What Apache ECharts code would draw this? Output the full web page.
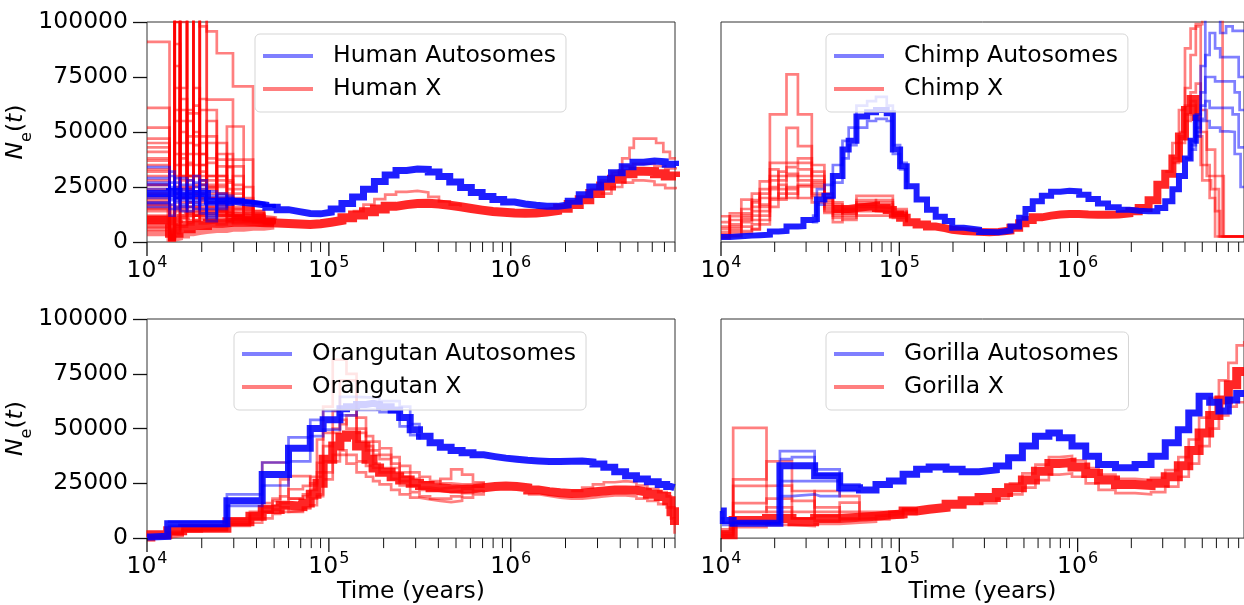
<!DOCTYPE html>
<html><head><meta charset="utf-8">
<script src="https://cdn.jsdelivr.net/npm/echarts@6/dist/echarts.min.js"></script>
<style>html,body{margin:0;padding:0;background:#fff}#c{width:1244px;height:605px}</style>
</head><body><div id="c"></div>
<script>
// ---------------- DATA ----------------
const yTicks = [0, 25000, 50000, 75000, 100000];
const xDecades = [1e4, 1e5, 1e6];

// Human
const humanCoreT = [1e4,1.33e4,1.5e4,1.75e4,2.15e4,2.6e4,3.0e4,3.4e4,3.9e4,4.5e4,5.2e4,6.0e4,6.9e4,7.9e4,9.0e4,1.03e5,1.18e5,1.35e5,1.55e5,1.78e5,2.04e5,2.34e5,2.68e5,3.07e5,3.52e5,4.03e5,4.62e5,5.3e5,6.07e5,6.96e5,7.98e5,9.14e5,1.05e6,1.2e6,1.38e6,1.58e6,1.81e6,2.07e6,2.38e6,2.72e6,3.12e6,3.58e6,4.1e6,4.7e6,5.38e6,6.17e6,7.07e6,8.1e6];
const humanAutoCore = [22000,23000,21000,22000,18500,18500,18000,17500,16800,15800,14700,13800,13000,12800,13500,15000,17500,20500,24000,27500,30500,32500,33200,33000,31800,29800,27300,24800,22500,20700,19300,18200,17300,16700,16300,16200,16800,18500,21500,25000,28500,31500,34200,36300,36800,36500,35300,34500];
const humanXCore = [10000,4000,6000,7500,8500,9000,9000,9000,8800,8600,8400,8200,8000,8300,9000,9800,11000,12300,13700,15000,16200,17000,17500,17600,17300,16700,16000,15200,14500,13900,13500,13200,13100,13200,13600,14300,15300,17000,19200,22000,25500,28500,31000,32200,32000,31000,30000,29500];
const humanEarlyT = [1e4,1.33e4,1.42e4,1.52e4,1.66e4,1.8e4,1.95e4,2.13e4,2.42e4,2.75e4,2.97e4,3.4e4,3.83e4,4.4e4,5.0e4];
const humanXBandHi = [16000,9000,10000,11500,12500,13000,13500,13500,13000,12500,12000,11500,11000,10500,10000];
const humanXBandLo = [4000,1500,2000,3000,4000,4500,5000,5500,5500,6000,6000,6500,6500,7000,7000];
const humanAutoEarly1 = [34000,30000,25000,21000,26000,30000,22000,15000,19000,21000,19500,18500,17500,16500,15500];
const humanAutoEarly2 = [26000,17000,27000,24000,19000,23000,28000,12000,17000,19000,19000,18000,17500,16500,15500];
const humanAutoEarly3 = [18000,24000,20000,29000,22000,17000,19000,21000,20000,18000,18500,18500,17800,16800,15500];
const humanAutoEarly4 = [16000,12000,16000,14000,18000,20000,15000,9500,16000,17000,18000,17500,17000,16500,15500];
const humanAutoEarly5 = [29000,20000,18000,26000,16000,21000,17000,19500,18000,19500,19000,18500,17500,16500,15500];
const humanAutoEarly6 = [20000,27000,22000,17000,24000,15000,26000,17000,21000,19000,18500,18000,17500,16500,15500];
const humanAutoEarly7 = [24000,32000,19000,23000,14000,27000,20000,13000,22000,18000,19000,18000,17500,16500,15500];
const humanAutoEarly8 = [21000,15000,24000,19000,28000,18000,24000,23000,15000,20000,18000,18500,17500,16500,15500];
const humanAutoEarly9 = [27000,25000,15000,22000,20000,25000,13000,18000,19000,17000,19500,18000,17500,16500,15500];
const humanAutoEarly10 = [17500,19000,29000,16000,21000,19000,21000,11000,18000,20000,18500,18000,17500,16500,15500];
const humanXEarly1 = [91000,2000,150000,150000,110000,120000,98000,95700,85800,85800,70700,70700,14000,10000,9000];
const humanXEarly2 = [61000,3000,130000,45000,58500,58500,120000,64700,64700,64700,22000,14000,12000,10000,9000];
const humanXEarly3 = [43000,1500,120000,30000,25000,105000,40000,28000,20000,52500,52500,16000,12500,10000,9000];
const humanXEarly4 = [35000,4000,110000,110000,30000,22000,18000,45000,37400,37400,37400,37400,13000,11000,9500];
const humanXEarly5 = [28000,2500,20000,105000,105000,40000,28000,22000,34400,34400,34400,15000,12000,10000,9000];
const humanXEarly6 = [20000,1000,12000,25000,16000,48000,48000,16000,25000,14000,12000,11000,10000,9000,8500];
const humanXEarly7 = [14000,6000,9000,12000,14000,10000,12000,10000,11000,9000,10000,9500,9000,8500,8000];
const humanXEarly8 = [8000,3500,7000,9000,8000,9500,8500,9000,8000,9500,8500,8000,7500,7500,7500];
const humanXEarly9 = [5500,1200,90000,16000,35000,130000,30000,25000,18000,16000,15000,12000,11000,10000,9000];
const humanXEarly10 = [30000,5000,15000,60000,30000,20000,28000,20000,13000,15000,12000,11000,10000,9000,8500];
const humanXEarly11 = [24000,1500,8000,15000,130000,50000,20000,15000,14000,12000,11000,10000,9500,9000,8500];
const humanXEarly12 = [10000,2000,5000,40000,12000,30000,15000,12000,30000,20000,12000,10000,9000,8000,8000];
const humanXEarly13 = [38000,3000,25000,70000,140000,140000,26000,18000,15000,13000,12000,11000,10000,9000,8500];
const humanXEarly14 = [17000,2500,100000,20000,10000,14000,60000,60000,20000,15000,13000,11000,10000,9000,8500];
const humanXEarly15 = [32000,2000,40000,18000,22000,15000,35000,14000,12000,11000,10500,10000,9500,9000,8500];
const humanXEarly16 = [26000,800,6000,9000,30000,12000,11000,20000,15000,13000,12000,11000,10000,9000,8500];
const humanXEarly17 = [22000,3000,60000,100000,20000,12000,16000,13000,18000,14000,11000,10000,9500,9000,8500];
const humanXEarly18 = [12000,1500,4000,7000,9000,22000,12000,10000,12000,11000,10000,9500,9000,8500,8000];
const humanXEarly19 = [45000,2500,150000,35000,24000,18000,14000,30000,16000,12000,11000,10500,10000,9000,8500];
const humanXEarly20 = [6500,4500,8000,11000,13000,12000,10000,11000,9500,10000,9500,9000,8500,8000,8000];
const humanXEarly21 = [33000,1000,10000,130000,28000,16000,45000,18000,14000,12000,11500,10500,10000,9000,8500];
const humanXEarly22 = [18000,5500,14000,20000,45000,25000,13000,16000,12000,12000,11000,10000,9500,9000,8500];
const humanXEarly23 = [41000,2000,30000,14000,18000,130000,130000,38000,22000,16000,14000,12000,10500,9500,9000];
const humanXEarly24 = [9000,2800,11000,8000,16000,10000,20000,9000,14000,10000,9000,9000,8500,8000,8000];
const humanXEarly25 = [52000,1500,80000,55000,40000,62000,35000,48000,30000,24000,18000,14000,11000,9500,9000];
const humanXEarly26 = [47000,2500,100000,38000,55000,30000,65000,25000,40000,28000,20000,13000,11000,9500,9000];
const humanXEarly27 = [15000,1000,45000,65000,25000,35000,22000,55000,28000,40000,26000,15000,11500,9500,9000];
const humanXEarly28 = [26000,3000,70000,28000,48000,26000,32000,24000,45000,22000,30000,20000,12000,10000,9000];
const humanXEarly29 = [19000,2000,35000,50000,18000,44000,26000,20000,26000,34000,18000,25000,13000,10000,9000];
const humanXEarly30 = [11000,1000,22000,30000,60000,20000,40000,30000,22000,18000,24000,16000,14000,10500,9000];
const humanXEarly31 = [37000,4000,55000,24000,36000,70000,24000,36000,19000,27000,16000,19000,12500,10000,9000];
const humanXEarly32 = [7000,1800,16000,20000,24000,16000,19000,26000,17000,21000,15000,13000,11000,9500,8500];
const humanXHiA = [[1.35e5,14000],[1.55e5,17000],[1.78e5,19500],[2.04e5,21500],[2.34e5,22800],[2.68e5,23200],[3.07e5,22500],[3.52e5,20500],[4.03e5,18500],[4.62e5,17000],[5.3e5,16000]];
const humanXHiB = [[3.58e6,31000],[4.1e6,38000],[4.5e6,42800],[4.75e6,47000],[6.3e6,45000],[6.9e6,41000],[7.5e6,38000],[8.1e6,38000]];
const humanXHiC = [[2.72e6,24000],[3.12e6,28000],[3.58e6,32000],[4.1e6,34500],[4.7e6,35500],[5.38e6,35500],[6.17e6,34500],[7.07e6,33500],[8.1e6,33000]];
const humanXLo = [[3.12e6,22000],[3.58e6,25000],[4.1e6,27000],[4.7e6,28000],[5.38e6,27500],[6.17e6,26000],[7.07e6,24500],[8.1e6,24000]];

// Chimp
const chimpCoreT = [1e4,1.12e4,1.3e4,1.49e4,1.65e4,1.88e4,2.1e4,2.33e4,2.7e4,2.9e4,3.23e4,3.45e4,3.8e4,4.24e4,4.8e4,5.2e4,5.75e4,6.6e4,7.4e4,8.5e4,9.2e4,1.01e5,1.1e5,1.25e5,1.43e5,1.6e5,1.8e5,1.98e5,2.3e5,2.8e5,3.2e5,3.6e5,4.2e5,4.7e5,5.1e5,5.6e5,6.3e5,7.1e5,8.0e5,9.0e5,1.02e6,1.15e6,1.3e6,1.48e6,1.7e6,1.95e6,2.2e6,2.5e6,2.8e6,3.1e6,3.4e6,3.7e6,4.0e6,4.3e6,4.6e6];
const chimpAutoCore = [2300,2600,2900,3100,3300,4800,5000,7000,7200,10000,10300,19300,21000,30000,42000,46000,57000,59000,60000,58500,42000,34400,25300,19300,14700,11500,9500,6500,5600,4500,4400,5200,7000,11000,15000,18500,21000,22800,23300,23000,21500,19500,17500,15800,14700,14200,14000,14000,15500,18500,24000,30000,38000,46000,58000];
const chimpXCoreT = [4.24e4,4.8e4,5.2e4,5.75e4,6.6e4,7.4e4,8.5e4,9.2e4,1.01e5,1.1e5,1.25e5,1.43e5,1.6e5,1.8e5,1.98e5,2.3e5,2.8e5,3.2e5,3.6e5,4.2e5,4.7e5,5.1e5,5.6e5,6.3e5,7.1e5,8.0e5,9.0e5,1.02e6,1.15e6,1.3e6,1.48e6,1.7e6,1.95e6,2.2e6,2.5e6,2.8e6,3.1e6,3.4e6,3.7e6,4.0e6,4.3e6,4.6e6];
const chimpXCore = [15000,15000,15500,16000,16500,15500,14500,12500,11000,9000,8000,7000,6300,5600,5000,4600,4400,4600,5200,6500,8500,10000,11200,12000,12500,12700,12700,12500,12400,12400,12500,13000,14000,15500,19000,26000,31000,38000,48000,60000,65000,55000];
const chimpAutoHi = [[3.23e4,12000],[3.45e4,24000],[3.8e4,26000],[4.24e4,35000],[4.8e4,46000],[5.2e4,52000],[5.75e4,62000],[6.6e4,64000],[7.4e4,66000],[8.5e4,62000],[9.2e4,44000],[1.01e5,36000],[1.1e5,27000]];
const chimpAutoLo = [[3.23e4,9000],[3.45e4,17000],[3.8e4,20000],[4.24e4,27000],[4.8e4,38000],[5.2e4,44000],[5.75e4,52000],[6.6e4,55000],[7.4e4,56000],[8.5e4,55000],[9.2e4,40000],[1.01e5,33000],[1.1e5,24000]];
const chimpAutoTail1 = [[4.0e6,38000],[4.3e6,46000],[4.6e6,58000],[4.9e6,80000],[5.2e6,110000],[5.9e6,110000],[6.3e6,95000],[6.8e6,98000],[7.4e6,96000],[8.6e6,96000]];
const chimpAutoTail2 = [[4.3e6,44000],[4.6e6,55000],[4.9e6,68000],[5.2e6,85000],[5.5e6,95000],[5.9e6,88000],[6.3e6,84000],[7.4e6,84000],[8.0e6,75000],[8.6e6,75000]];
const chimpAutoTail3 = [[4.3e6,42000],[4.6e6,52000],[4.9e6,62000],[5.2e6,75000],[5.9e6,73000],[6.8e6,73000],[7.6e6,68000],[8.1e6,60000],[8.6e6,60000]];
const chimpAutoTail4 = [[4.6e6,50000],[4.9e6,56000],[5.2e6,64000],[5.5e6,61000],[6.3e6,61000],[7.4e6,58000],[8.0e6,43000],[8.6e6,43000]];
const chimpAutoTail5 = [[4.6e6,48000],[4.9e6,55000],[5.5e6,52000],[6.3e6,50300],[7.0e6,50000],[7.6e6,40000],[8.2e6,25000],[8.6e6,25000]];
const chimpEarlyT = [1e4,1.12e4,1.3e4,1.49e4,1.65e4,1.88e4,2.1e4,2.33e4,2.7e4,3.23e4,3.8e4,4.24e4,4.8e4,5.75e4,7.4e4,9.2e4,1.1e5];
const chimpXEarly1 = [2000,5000,9000,12000,17000,58000,58000,76200,58000,35000,20000,18000,14000,16000,15000,12000,9000];
const chimpXEarly2 = [3000,7000,10000,14000,20000,36000,36000,51900,43600,30000,22000,17000,15000,17000,16000,13000,10000];
const chimpXEarly3 = [6000,10000,12000,19000,27600,30000,32000,36000,38000,28000,18000,14000,13000,18000,19000,14000,11000];
const chimpXEarly4 = [9000,11700,19300,16000,22000,25000,28000,30000,33000,25000,17000,13000,12000,15000,14000,12000,9500];
const chimpXEarly5 = [1800,3000,5000,8000,10000,20000,22000,25000,26000,22000,15000,11000,10000,12000,12000,11000,9000];
const chimpXEarly6 = [11700,4100,7000,6000,12000,19300,19300,22000,25300,18000,13200,9000,11000,21000,21000,15000,10000];
const chimpXEarly7 = [3500,2500,4000,5600,8000,24000,24000,20000,30000,32000,20000,15000,13000,14000,13500,12000,9000];
const chimpXEarly8 = [4500,8000,13000,22000,16000,28000,30000,34000,36000,26000,16000,12000,15000,17000,18000,13000,9500];
const chimpXEarly9 = [7000,13000,15000,18000,24000,33000,20000,31000,28000,21000,19000,16000,14000,16000,15500,13500,10500];
const chimpXEarly10 = [2500,6000,11000,10000,14000,16000,26000,24000,20000,27000,14000,14000,16000,19000,17000,12500,9000];
const chimpXTail1 = [[3.7e6,50000],[4.0e6,70000],[4.3e6,85000],[4.6e6,99000],[5.0e6,120000],[6.5e6,2500],[8.6e6,2500]];
const chimpXTail2 = [[3.4e6,36000],[3.7e6,45000],[4.0e6,55000],[4.3e6,68000],[4.6e6,72000],[4.9e6,50000],[5.3e6,30000],[5.9e6,14000],[6.3e6,2500],[8.6e6,2500]];
const chimpXTail3 = [[3.4e6,38000],[3.7e6,48000],[4.0e6,62000],[4.3e6,64000],[4.6e6,58000],[4.9e6,35000],[5.5e6,20000],[5.9e6,2500],[8.6e6,2500]];
const chimpXTail4 = [[3.7e6,47000],[4.0e6,58000],[4.3e6,62000],[4.6e6,48000],[5.0e6,28000],[5.6e6,24000],[6.2e6,2500],[8.6e6,2500]];
const chimpXTail5 = [[3.1e6,32000],[3.4e6,45000],[3.7e6,60000],[4.0e6,88000],[4.3e6,97000],[4.6e6,98000],[4.9e6,60000],[5.3e6,42000],[5.9e6,30000],[6.6e6,2500],[8.6e6,2500]];

// Orangutan
const orangCoreT = [1e4,1.05e4,1.3e4,1.57e4,2.0e4,2.75e4,3.68e4,4.3e4,5.4e4,6.0e4,7.2e4,7.9e4,8.6e4,9.3e4,1.05e5,1.15e5,1.25e5,1.42e5,1.6e5,1.75e5,1.9e5,2.2e5,2.45e5,2.8e5,3.15e5,3.6e5,4.1e5,4.7e5,5.4e5,6.2e5,7.1e5,8.2e5,9.4e5,1.08e6,1.24e6,1.42e6,1.63e6,1.87e6,2.15e6,2.47e6,2.83e6,3.25e6,3.73e6,4.28e6,4.91e6,5.64e6,6.47e6,7.2e6,7.6e6,7.95e6];
const orangAutoCore = [500,800,6500,6500,6500,17000,17000,29000,29000,41000,41000,50000,50000,54000,54000,59000,60000,61000,61500,61000,60000,58500,55000,49500,46500,43500,41500,40000,39000,38000,37200,36500,36000,35500,35200,35000,35000,35100,35200,34800,33800,32300,30300,28500,27000,25700,24500,23500,23000,23000];
const orangXCore = [500,1500,3300,4500,4500,7500,10000,13000,15000,14500,16000,20000,25000,36000,42000,46000,47000,42000,36000,32000,30000,28000,26500,25000,24000,23000,22500,22300,22500,23000,23500,23800,23500,23000,22000,21200,20700,20400,20500,21000,21500,22000,22000,21800,21000,20000,19000,17000,12000,6000];
const orangAutoHi = [[1.3e4,7500],[2.75e4,20000],[4.3e4,34500],[6.0e4,46000],[7.9e4,54000],[9.3e4,58000],[1.15e5,64500],[1.42e5,64000],[1.9e5,62500],[2.45e5,60000],[2.8e5,52000],[3.15e5,48000]];
const orangAutoLo = [[1.3e4,5600],[2.75e4,14700],[4.3e4,24000],[6.0e4,35000],[7.9e4,46500],[9.3e4,49500],[1.15e5,56000],[1.42e5,58500],[1.9e5,57500],[2.45e5,51000],[2.8e5,47000],[3.15e5,45000]];
const orangEarlyT = [1e4,1.3e4,1.57e4,2.0e4,2.75e4,3.68e4,4.3e4,4.9e4,5.4e4,6.0e4,7.2e4,7.9e4,8.6e4,9.3e4,1.05e5,1.15e5,1.25e5,1.42e5,1.6e5,1.75e5,1.9e5,2.2e5,2.45e5,2.8e5,3.15e5,3.6e5,4.1e5,4.7e5,5.4e5,6.2e5,7.1e5];
const orangXEarly1 = [500,2500,3500,4000,6000,9000,12000,15000,16000,18000,20000,28000,45000,60000,81400,81400,75000,50000,42000,38000,36000,32000,28000,24000,22000,21500,21000,21500,22500,23500,24000];
const orangXEarly2 = [300,1500,4000,5000,9000,12000,34500,34500,34500,18000,19000,22000,30000,48000,58000,72000,72000,55000,46500,44000,41000,37000,33000,30000,28000,26000,25000,24500,24500,25000,25500];
const orangXEarly3 = [800,3000,5000,5500,8000,11000,16000,18000,26800,28300,28300,24000,28000,35000,38000,40000,38000,35000,33000,32000,30000,27000,24000,21000,19000,18000,18000,19000,20500,21500,22000];
const orangXEarly4 = [400,2000,4500,4500,6500,8500,12000,13000,14000,12000,14000,18000,20000,30000,48000,52000,56000,48000,44000,40000,38000,34000,30000,27000,25500,25000,27000,31400,29000,25500,24000];
const orangXEarly5 = [600,1800,3500,3500,5600,7000,9000,11000,12000,12500,13500,15000,19200,26800,35000,38000,34000,30000,28000,26000,24500,22000,20000,18500,17700,17000,16400,17000,18500,20000,21000];
const orangXEarly6 = [300,1000,3000,4000,7000,10000,14000,17000,19000,22300,23800,25000,34400,42000,50000,54000,50000,44000,40000,34000,32000,30000,26000,24000,23000,22500,23000,23500,23500,23500,23500];
const orangXHi = [[2.15e6,21500],[2.47e6,23000],[2.83e6,24500],[3.25e6,25500],[3.73e6,26000],[4.28e6,25500],[4.91e6,24000],[5.64e6,22500],[6.47e6,21000],[7.2e6,19000],[7.6e6,14000],[7.95e6,9000]];
const orangXLo = [[1.24e6,20000],[1.42e6,19200],[1.63e6,18500],[1.87e6,18000],[2.15e6,18000],[2.47e6,18500],[2.83e6,19000],[3.25e6,19500],[3.73e6,19500],[4.28e6,19000],[4.91e6,18000],[5.64e6,17000],[6.47e6,15500],[7.2e6,14000],[7.6e6,9000],[7.95e6,2000]];

// Gorilla
const gorillaCoreT = [1e4,1.03e4,1.17e4,1.8e4,2.14e4,2.5e4,3.35e4,4.63e4,5.98e4,7.4e4,8.8e4,1.05e5,1.25e5,1.47e5,1.83e5,2.25e5,2.8e5,3.5e5,4.1e5,4.9e5,5.8e5,6.9e5,7.9e5,9.3e5,1.11e6,1.31e6,1.63e6,2.1e6,2.58e6,3.1e6,3.67e6,4.2e6,4.8e6,5.5e6,6.2e6,7.0e6,7.8e6,8.6e6];
const gorillaAutoCore = [12400,8000,6800,6800,33000,33000,28500,23000,22000,24500,26100,29100,31400,32400,31400,30300,31100,32900,36700,42000,46500,48000,45800,42000,37400,33600,32100,33600,37400,43500,49500,57100,64700,62000,58000,63000,66000,66000];
const gorillaXCore = [1500,1500,8000,9000,9000,7500,9000,9500,10000,10500,11000,12400,13200,14000,15500,17000,18500,20800,23000,26500,30500,34000,34500,32500,29500,26500,24500,24000,25000,28000,33000,40000,48000,56000,63000,70000,76000,76000];
const gorillaAutoEarly1 = [[1e4,12000],[1.03e4,7000],[1.17e4,6500],[2.14e4,39700],[3.35e4,31400],[4.63e4,24500],[5.98e4,23000]];
const gorillaAutoEarly2 = [[1e4,9000],[1.03e4,6000],[1.17e4,7000],[2.14e4,26000],[3.35e4,26100],[4.63e4,21500],[5.98e4,20800]];
const gorillaAutoEarly3 = [[1.8e4,6800],[2.14e4,19200],[2.5e4,20000],[3.35e4,19200],[3.6e4,19200],[4.63e4,22000]];
const gorillaAutoEarly4 = [[2.14e4,36000],[2.5e4,37000],[3.35e4,29000],[4.63e4,22500]];
const gorillaEarlyT = [1e4,1.17e4,1.8e4,2.5e4,3.35e4,4.63e4,5.98e4,7.4e4,8.8e4,1.05e5,1.25e5];
const gorillaXEarly1 = [2000,50300,12000,9000,8000,9000,10000,10500,11000,12500,13000];
const gorillaXEarly2 = [1000,26800,35000,12000,21500,19200,12000,12000,12500,13500,14000];
const gorillaXEarly3 = [4000,23800,24000,21500,10000,16200,11000,11000,12000,13000,13500];
const gorillaXEarly4 = [500,16000,18000,17000,14000,12000,9000,9500,10500,12000,13000];
const gorillaXEarly5 = [3000,5000,6000,5500,6500,7000,7500,8500,9500,11000,12000];
const gorillaXEarly6 = [1500,12000,14000,9000,12000,8500,9000,10000,11500,13000,14000];
const gorillaXLo = [[2.8e5,16000],[3.5e5,18000],[4.1e5,20000],[4.9e5,23000],[5.8e5,26500],[6.9e5,29000],[7.9e5,29500],[9.3e5,28000],[1.11e6,25000],[1.31e6,22000],[1.63e6,20500],[2.1e6,20000],[2.58e6,21000],[3.1e6,23500],[3.67e6,28000],[4.2e6,34000],[4.8e6,42000],[5.5e6,50000],[6.2e6,56000],[7.0e6,60000],[7.8e6,62000],[8.6e6,62000]];
const gorillaXHi = [[4.1e5,25000],[4.9e5,29500],[5.8e5,33500],[6.9e5,37000],[7.9e5,37500],[9.3e5,35500],[1.11e6,32000],[1.31e6,29000],[1.63e6,27000],[2.1e6,26500],[2.58e6,27500],[3.1e6,31000],[3.67e6,37000],[4.2e6,45000],[4.8e6,55000],[5.5e6,64000],[6.2e6,72000],[7.0e6,80000],[7.8e6,88000],[8.6e6,90000]];

// ---------------- CHART ----------------
const F = 'DejaVu Sans';
const BLUE = 'rgba(0,0,255,0.5)', RED = 'rgba(255,0,0,0.5)';
const BLUE_CORE = 'rgba(0,0,255,0.88)', RED_CORE = 'rgba(255,0,0,0.85)';
const zip = (T, V) => V.map((v, i) => [T[i], v]);
const series = [];
function add(p, name, data, color, width) {
  series.push({type: 'line', name, xAxisIndex: p, yAxisIndex: p, data, step: 'end',
    symbol: 'none', showSymbol: false, silent: true, animation: false, clip: true,
    lineStyle: {color, width, join: 'miter', cap: 'butt'}, itemStyle: {color},
    emphasis: {disabled: true}});
}
const TW = 2.7;
// Panel 0 Human (X lines first, autosomes drawn on top)
[humanXEarly1, humanXEarly2, humanXEarly3, humanXEarly4, humanXEarly5, humanXEarly6, humanXEarly7,
 humanXEarly8, humanXEarly9, humanXEarly10, humanXEarly11, humanXEarly12, humanXEarly13, humanXEarly14,
 humanXEarly15, humanXEarly16, humanXEarly17, humanXEarly18, humanXEarly19, humanXEarly20, humanXEarly21,
 humanXEarly22, humanXEarly23, humanXEarly24, humanXEarly25, humanXEarly26, humanXEarly27, humanXEarly28,
 humanXEarly29, humanXEarly30, humanXEarly31, humanXEarly32]
  .forEach(v => add(0, 'Human X', zip(humanEarlyT, v), RED, TW));
add(0, 'Human X', zip(humanEarlyT, humanXBandHi), RED, 6);
add(0, 'Human X', zip(humanEarlyT, humanXBandLo), RED, 6);
add(0, 'Human X', zip(humanCoreT, humanXCore), RED_CORE, 9);
[humanXHiA, humanXHiB, humanXHiC, humanXLo].forEach(d => add(0, 'Human X', d, RED, TW));
[humanAutoEarly1, humanAutoEarly2, humanAutoEarly3, humanAutoEarly4, humanAutoEarly5,
 humanAutoEarly6, humanAutoEarly7, humanAutoEarly8, humanAutoEarly9, humanAutoEarly10]
  .forEach(v => add(0, 'Human Autosomes', zip(humanEarlyT, v), BLUE, TW));
add(0, 'Human Autosomes', zip(humanCoreT, humanAutoCore), BLUE_CORE, 7);
// Panel 1 Chimp
[chimpXEarly1, chimpXEarly2, chimpXEarly3, chimpXEarly4, chimpXEarly5, chimpXEarly6, chimpXEarly7,
 chimpXEarly8, chimpXEarly9, chimpXEarly10]
  .forEach(v => add(1, 'Chimp X', zip(chimpEarlyT, v), RED, TW));
add(1, 'Chimp X', zip(chimpXCoreT, chimpXCore), RED_CORE, 8);
[chimpXTail1, chimpXTail2, chimpXTail3, chimpXTail4, chimpXTail5]
  .forEach(d => add(1, 'Chimp X', d, RED, TW));
add(1, 'Chimp Autosomes', chimpAutoHi, BLUE, TW);
add(1, 'Chimp Autosomes', chimpAutoLo, BLUE, TW);
add(1, 'Chimp Autosomes', zip(chimpCoreT, chimpAutoCore), BLUE_CORE, 6);
[chimpAutoTail1, chimpAutoTail2, chimpAutoTail3, chimpAutoTail4, chimpAutoTail5]
  .forEach(d => add(1, 'Chimp Autosomes', d, BLUE, TW));
// Panel 2 Orangutan
[orangXEarly1, orangXEarly2, orangXEarly3, orangXEarly4, orangXEarly5, orangXEarly6]
  .forEach(v => add(2, 'Orangutan X', zip(orangEarlyT, v), RED, TW));
add(2, 'Orangutan X', zip(orangCoreT, orangXCore), RED_CORE, 9);
[orangXHi, orangXLo].forEach(d => add(2, 'Orangutan X', d, RED, TW));
add(2, 'Orangutan Autosomes', orangAutoHi, BLUE, TW);
add(2, 'Orangutan Autosomes', orangAutoLo, BLUE, TW);
add(2, 'Orangutan Autosomes', zip(orangCoreT, orangAutoCore), BLUE_CORE, 7);
// Panel 3 Gorilla
[gorillaXEarly1, gorillaXEarly2, gorillaXEarly3, gorillaXEarly4, gorillaXEarly5, gorillaXEarly6]
  .forEach(v => add(3, 'Gorilla X', zip(gorillaEarlyT, v), RED, TW));
add(3, 'Gorilla X', zip(gorillaCoreT, gorillaXCore), RED_CORE, 9);
[gorillaXLo, gorillaXHi].forEach(d => add(3, 'Gorilla X', d, RED, TW));
[gorillaAutoEarly1, gorillaAutoEarly2, gorillaAutoEarly3, gorillaAutoEarly4]
  .forEach(d => add(3, 'Gorilla Autosomes', d, BLUE, TW));
add(3, 'Gorilla Autosomes', zip(gorillaCoreT, gorillaAutoCore), BLUE_CORE, 7);

// x-axis tick marks (major at decades, minor at 2..9 x decade)
const xMax = [8.0e6, 8.57e6, 8.0e6, 8.57e6];
function tickData(maxT) {
  const out = [];
  xDecades.concat([1e7]).forEach(d => {
    for (let k = 1; k <= 9; k++) { const v = k * d; if (v <= maxT * 1.0001) out.push([v, k === 1 ? 1 : 0]); }
  });
  return out;
}
for (let p = 0; p < 4; p++) {
  series.push({type: 'custom', xAxisIndex: p, yAxisIndex: p, silent: true, animation: false, clip: false, z: 10,
    data: tickData(xMax[p]),
    renderItem: (params, api) => {
      const major = api.value(1);
      const pt = api.coord([api.value(0), 0]);
      const len = major ? 14 : 10;
      return {type: 'line', shape: {x1: pt[0], y1: pt[1], x2: pt[0], y2: pt[1] + len},
        style: {stroke: '#111', lineWidth: major ? 1.3 : 1}};
    }});
}

const grids = [
  {left: 147, top: 22, width: 528, height: 220},
  {left: 721, top: 22, width: 524, height: 220},
  {left: 147, top: 319, width: 528, height: 220},
  {left: 721, top: 319, width: 524, height: 220}
].map(g => Object.assign(g, {show: true, borderColor: '#333', borderWidth: 1, backgroundColor: 'transparent'}));

function powFmt(v) {
  const e = Math.log10(v);
  if (Math.abs(e - Math.round(e)) > 1e-6 || v > xDecades[xDecades.length - 1] * 1.0001) return '';
  return '{b|10}{s|' + Math.round(e) + '}';
}
const xAxes = [0, 1, 2, 3].map(p => ({
  type: 'log', logBase: 10, gridIndex: p, min: 1e4, max: xMax[p],
  axisLine: {show: false}, axisTick: {show: false}, splitLine: {show: false}, minorTick: {show: false},
  axisLabel: {formatter: powFmt, margin: 11, showMaxLabel: false,
    rich: {b: {fontSize: 23.5, fontFamily: F, color: '#000', lineHeight: 30, verticalAlign: 'bottom'},
           s: {fontSize: 16, fontFamily: F, color: '#000', lineHeight: 30, verticalAlign: 'top', padding: [2, 0, 0, 1]}}},
  name: p >= 2 ? 'Time (years)' : '', nameLocation: 'middle', nameGap: 40,
  nameTextStyle: {fontSize: 23.5, fontFamily: F, color: '#000'}
}));
const yAxes = [0, 1, 2, 3].map(p => ({
  type: 'value', gridIndex: p, min: yTicks[0], max: yTicks[yTicks.length - 1], interval: yTicks[1] - yTicks[0],
  splitLine: {show: false}, axisLine: {show: false},
  axisTick: {show: p % 2 === 0, length: 14, lineStyle: {color: '#111', width: 1.3}},
  axisLabel: {show: p % 2 === 0, fontSize: 23.5, fontFamily: F, color: '#000', margin: 19, formatter: v => String(v)},
  name: p % 2 === 0 ? '{i|N}{e|e}{p|(}{i|t}{p|)}' : '', nameLocation: 'middle', nameRotate: 90, nameGap: 103,
  nameTextStyle: {rich: {
    i: {fontSize: 23.5, fontFamily: F, fontStyle: 'italic', color: '#000', lineHeight: 30, verticalAlign: 'top'},
    p: {fontSize: 23.5, fontFamily: F, color: '#000', lineHeight: 30, verticalAlign: 'top'},
    e: {fontSize: 16, fontFamily: F, color: '#000', lineHeight: 30, verticalAlign: 'bottom'}}}
}));

function mkLegend(left, top, a, x) {
  return {left, top, orient: 'vertical', selectedMode: false, icon: 'rect', itemWidth: 50, itemHeight: 4, itemGap: 5,
    padding: [8, 10, 9, 8], borderColor: '#d5d5d5', borderWidth: 1, borderRadius: 5, backgroundColor: 'rgba(255,255,255,0.8)',
    textStyle: {fontSize: 23.5, fontFamily: F, color: '#000', lineHeight: 28, padding: [0, 0, 0, 15]},
    data: [{name: a, icon: 'rect', itemStyle: {color: BLUE}}, {name: x, icon: 'rect', itemStyle: {color: RED}}]};
}
const legends = [
  mkLegend(255, 34, 'Human Autosomes', 'Human X'),
  mkLegend(826, 34, 'Chimp Autosomes', 'Chimp X'),
  mkLegend(234, 332, 'Orangutan Autosomes', 'Orangutan X'),
  mkLegend(826, 332, 'Gorilla Autosomes', 'Gorilla X')
];

const chart = echarts.init(document.getElementById('c'), null, {renderer: 'canvas'});
chart.setOption({animation: false, textStyle: {fontFamily: F}, grid: grids, xAxis: xAxes, yAxis: yAxes,
  legend: legends, series});
</script></body></html>
